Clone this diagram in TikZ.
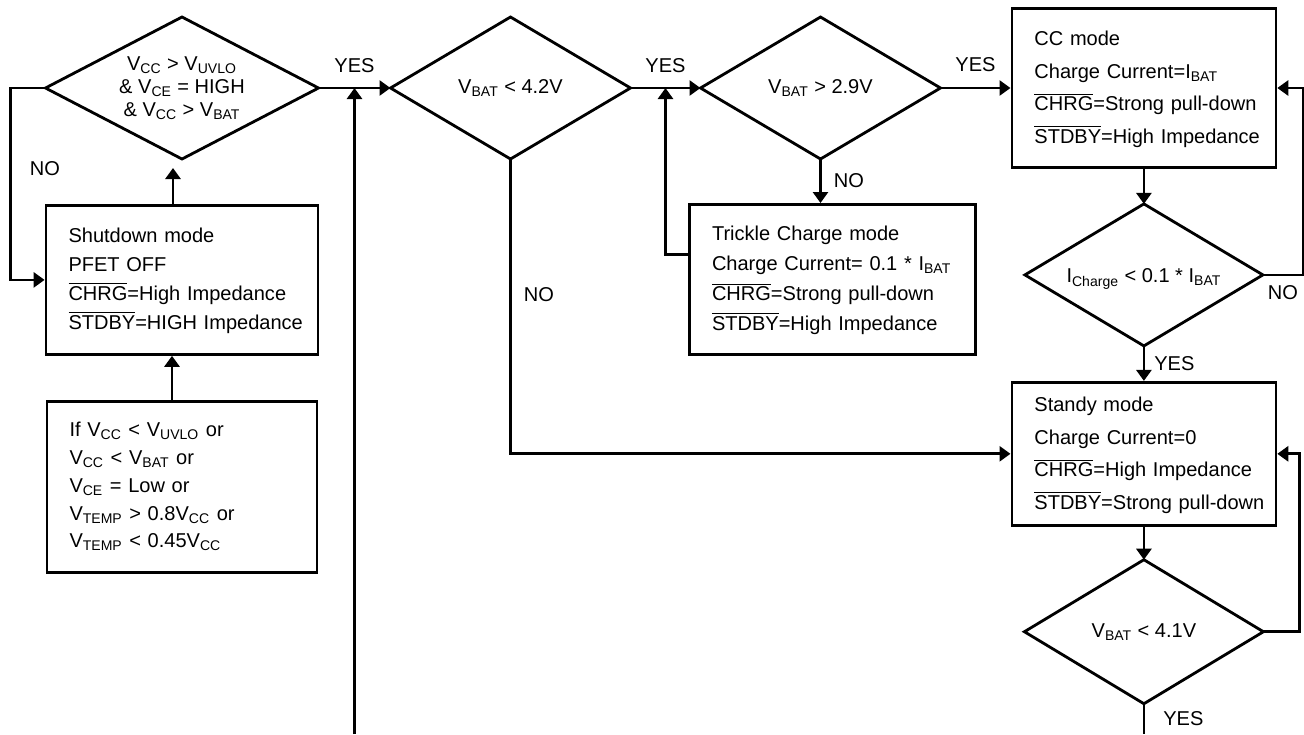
\documentclass[tikz,border=0pt]{standalone}
\usepackage{fontspec}
\setmainfont{Liberation Sans}
\usetikzlibrary{shapes.geometric, arrows.meta, calc, positioning}
\tikzstyle{dec} = [diamond, draw, line width=1.6pt, inner sep=0pt, outer sep=0pt, minimum width=4.8cm, minimum height=2.84cm]
\tikzstyle{cond} = [align=center, inner sep=0pt, font=\fontsize{11.4}{13}\selectfont]
\tikzstyle{box} = [rectangle, draw, line width=1.6pt, inner xsep=0.45cm, inner ysep=0pt, font=\fontsize{11.4}{17}\selectfont]
\tikzstyle{lbl} = [inner sep=0pt, font=\fontsize{11.4}{13}\selectfont]
\tikzstyle{arrow} = [line width=1.6pt, -{Triangle[length=0.22cm, width=0.3cm]}]
\tikzstyle{line} = [line width=1.6pt]
\newcommand{\sbs}[1]{\textsubscript{#1}}
\newcommand{\ovl}[1]{$\overline{\mbox{#1}}$}
\newcommand{\rows}[1]{\noindent\begin{tabular}{@{}l@{}}#1\end{tabular}}
\begin{document}
\begin{tikzpicture}
        \useasboundingbox (0,0) rectangle (26.08,-14.68);
        \coordinate (BOT) at (0,-14.68);

        % top row of checks
        \node (D1) [dec, minimum width=5.46cm] at (3.64,-1.76) {};
        \node (D2) [dec, right=1.44cm of D1] {};
        \node (D3) [dec, right=1.4cm of D2] {};
        \node (CC) [box, minimum width=5.28cm, minimum height=3.18cm, text width=4.38cm, font=\fontsize{11.4}{18.5}\selectfont, right=1.4cm of D3] {\rows{CC mode\\ Charge Current=I\sbs{BAT}\\ \ovl{CHRG}=Strong pull-down\\ \ovl{STDBY}=High Impedance}};

        \node (D1t) [cond] at (D1) {V\sbs{CC} > V\sbs{UVLO}\\ \& V\sbs{CE} = HIGH\\ \& V\sbs{CC} > V\sbs{BAT}};
        \node (D2t) [cond] at (D2) {V\sbs{BAT} < 4.2V};
        \node (D3t) [cond] at (D3) {V\sbs{BAT} > 2.9V};

        % right column
        \node (D4) [dec, minimum width=4.76cm, below=0.7cm of CC] {};
        \node (D4t) [cond, yshift=-0.08cm] at (D4) {I\sbs{Charge} < 0.1 * I\sbs{BAT}};
        \node (SB) [box, minimum width=5.28cm, minimum height=2.86cm, text width=4.38cm, font=\fontsize{11.4}{18.5}\selectfont, below=0.7cm of D4] {\rows{Standy mode\\ Charge Current=0\\ \ovl{CHRG}=High Impedance\\ \ovl{STDBY}=Strong pull-down}};
        \node (D5) [dec, minimum width=4.78cm, minimum height=2.88cm, below=0.66cm of SB] {};
        \node (D5t) [cond] at (D5) {V\sbs{BAT} < 4.1V};

        % trickle and shutdown boxes
        \node (TC) [box, minimum width=5.72cm, minimum height=3.0cm, text width=4.82cm, below=0.88cm of D3, xshift=0.24cm] {\rows{Trickle Charge mode\\ Charge Current= 0.1 * I\sbs{BAT}\\ \ovl{CHRG}=Strong pull-down\\ \ovl{STDBY}=High Impedance}};
        \node (SD) [box, minimum width=5.44cm, minimum height=2.98cm, text width=4.54cm, font=\fontsize{11.4}{16.5}\selectfont, below=0.9cm of D1] {\rows{Shutdown mode\\ PFET OFF\\ \ovl{CHRG}=High Impedance\\ \ovl{STDBY}=HIGH Impedance}};
        \node (IF) [box, minimum width=5.4cm, minimum height=3.42cm, text width=4.5cm, font=\fontsize{11.4}{15.8}\selectfont, below=0.88cm of SD] {\rows{If V\sbs{CC} < V\sbs{UVLO} or\\ V\sbs{CC} < V\sbs{BAT} or\\ V\sbs{CE} = Low or\\ V\sbs{TEMP} > 0.8V\sbs{CC} or\\ V\sbs{TEMP} < 0.45V\sbs{CC}}};

        \coordinate (J1) at ($(D1.east)!0.5!(D2.west)$); % where the long return line joins
        \coordinate (J2) at ($(D2.east)!0.5!(D3.west)$);

        \draw [arrow] (D1.east) -- (D2.west);
        \node (Y1) [lbl, above=0.3cm of J1] {YES};
        \draw [arrow] (D2.east) -- (D3.west);
        \node (Y2) [lbl, above=0.3cm of J2] {YES};
        \draw [arrow] (D3.east) -- node (Y3) [lbl, above=0.3cm] {YES} (CC.west);

        \draw [arrow] (J1 |- BOT) -- (J1);
        \draw [arrow] ([yshift=0.5cm]TC.west) -| (J2);
        \draw [arrow] (D3.south) -- node (N2) [lbl, right=0.24cm] {NO} (D3.south |- TC.north);

        \draw [arrow] (D1.west) -- ++(-0.7,0) |- node (N1) [lbl, pos=0.21, right=0.36cm] {NO} (SD.west);
        \draw [arrow] ([xshift=-0.18cm]SD.north) -- ([xshift=-0.18cm, yshift=-0.18cm]D1.south);
        \draw [arrow] ([xshift=-0.2cm]IF.north) -- ([xshift=-0.2cm]SD.south);

        \draw [arrow] (D2.south) |- node (N3) [lbl, pos=0.23, right=0.24cm] {NO} (SB.west);

        \draw [arrow] (CC.south) -- (D4.north);
        \draw [arrow] (D4.east) -- node (N4) [lbl, below=0.18cm] {NO} ++(0.8,0) |- (CC.east);
        \draw [arrow] (D4.south) -- node (Y4) [lbl, right=0.18cm] {YES} (SB.north);
        \draw [arrow] (SB.south) -- (D5.north);
        \draw [arrow] (D5.east) -- ++(0.72,0) |- (SB.east);
        \draw [line] (D5.south) -- node (Y5) [lbl, right=0.36cm] {YES} (D5.south |- BOT);
\end{tikzpicture}
\end{document}
